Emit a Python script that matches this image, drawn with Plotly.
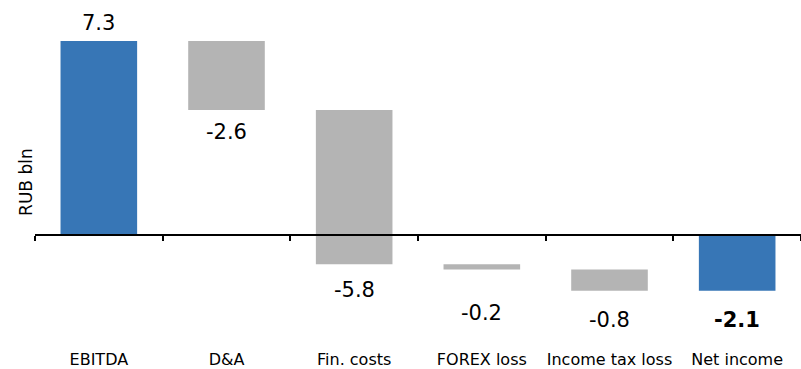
import plotly.graph_objects as go

# Net income bridge, RUB bln
categories = ["EBITDA", "D&A", "Fin. costs", "FOREX loss", "Income tax loss", "Net income"]
values = [7.3, -2.6, -5.8, -0.2, -0.8, -2.1]
measures = ["absolute", "relative", "relative", "relative", "relative", "total"]

# distance (px) of each value label's centre from the end of its bar
label_gap = [18, 22, 26, 43, 29, 29]

BLUE = "#3776B6"
GREY = "#B4B4B4"
FONT = "Verdana, DejaVu Sans, sans-serif"

y_min, y_max = -4.25, 8.467

fig = go.Figure()
fig.add_trace(go.Waterfall(
    x=categories, y=values, measure=measures,
    connector=dict(visible=False),
    decreasing=dict(marker=dict(color=GREY)),
    increasing=dict(marker=dict(color=GREY)),
    totals=dict(marker=dict(color=BLUE)),
    hoverinfo="skip",
    showlegend=False,
))

# invisible trace carrying the zero-line axis with boundary ticks
fig.add_trace(go.Scatter(x=categories, y=[0] * len(categories), xaxis="x2",
                         mode="markers", marker=dict(opacity=0),
                         hoverinfo="skip", showlegend=False))

# value labels at the end of each bar
running = 0.0
for cat, val, m, gap in zip(categories, values, measures, label_gap):
    if m == "absolute":
        running = val
        end = val
    elif m == "relative":
        running += val
        end = running
    else:
        end = running
    label = f"{val:.1f}"
    if m == "total":
        label = f"<b>{label}</b>"
    fig.add_annotation(x=cat, y=end, text=label, showarrow=False,
                       yanchor="middle", yshift=gap if val >= 0 else -gap,
                       font=dict(family=FONT, size=21, color="#000"))

# y-axis title
fig.add_annotation(xref="paper", yref="y", x=0, xshift=-21, y=2.0,
                   text="RUB bln", textangle=-90, showarrow=False,
                   font=dict(family=FONT, size=17, color="#000"))

zero_pos = (0 - y_min) / (y_max - y_min)

fig.update_layout(
    width=801, height=369,
    margin=dict(l=35, r=0, t=10, b=21),
    plot_bgcolor="white", paper_bgcolor="white",
    waterfallgap=0.4,
    font=dict(family=FONT, size=16, color="#000"),
    xaxis=dict(showline=False, ticks="", showgrid=False, zeroline=False,
               tickfont=dict(family=FONT, size=16, color="#000")),
    xaxis2=dict(overlaying="x", matches="x", anchor="free", position=zero_pos,
                showline=True, linecolor="#000", linewidth=2,
                ticks="outside", tickson="boundaries", ticklen=5,
                tickwidth=2, tickcolor="#000",
                showticklabels=False, showgrid=False, zeroline=False),
    yaxis=dict(range=[y_min, y_max], showgrid=False, zeroline=False,
               showline=False, ticks="", showticklabels=False),
)

fig.write_html("out.html")
